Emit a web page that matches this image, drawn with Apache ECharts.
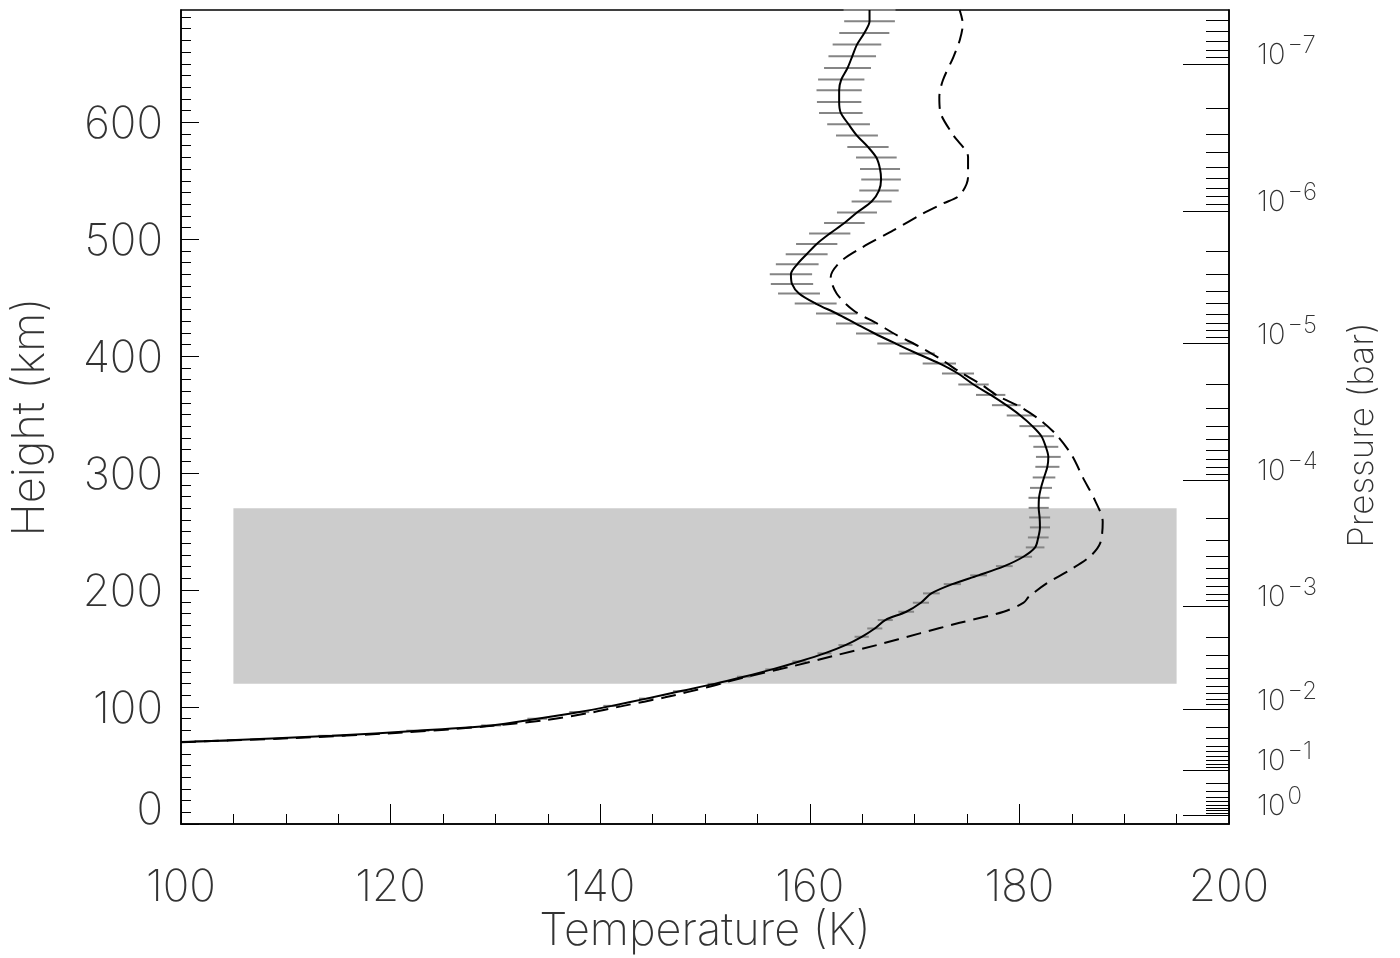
<!DOCTYPE html>
<html>
<head>
<meta charset="utf-8">
<script src="https://cdn.jsdelivr.net/npm/echarts@6/dist/echarts.min.js"></script>
<style>
html,body{margin:0;padding:0;background:#fff;}
#chart{width:1400px;height:958px;}
</style>
</head>
<body>
<div id="chart"></div>
<script>
// ---------- data ----------
// Retrieved profile (solid line) with error bars
const solidHeight = [70.2,70.9,75.4,79.8,84.3,90.0,95.7,101.0,107.2,113.5,119.8,125.9,132.2,139.0,145.9,153.0,160.1,167.2,174.4,181.5,189.2,197.2,205.1,212.6,220.5,228.5,236.5,245.0,253.6,262.1,270.3,278.9,287.4,296.3,305.4,313.9,322.5,331.6,340.2,349.3,358.1,366.9,375.8,385.2,393.8,402.3,410.8,419.4,427.9,436.5,445.0,453.6,461.8,470.1,478.6,487.2,496.0,504.8,513.9,522.8,532.2,541.6,551.0,560.1,569.8,578.9,588.6,598.3,608.0,617.4,627.4,636.5,646.4,656.4,666.4,676.4,686.3,696.0];
const solidTemp = [100.0,102.9,114.4,122.6,129.6,134.0,138.0,141.1,144.4,147.6,150.9,153.7,156.4,159.0,161.4,163.4,164.95,166.2,167.2,169.2,170.6,171.6,173.6,176.1,178.56,180.38,181.5,181.8,181.96,181.93,181.84,181.87,182.06,182.35,182.67,182.76,182.52,182.1,181.24,180.09,178.75,177.26,175.62,174.14,172.36,170.23,168.19,166.19,164.38,162.56,160.56,158.97,158.3,158.2,158.8,159.7,160.66,161.9,163.3,164.5,165.9,166.6,166.8,166.7,166.35,165.55,164.5,163.7,162.96,162.8,162.8,163.0,163.6,164.05,164.5,165.2,165.7,165.7];
const solidError = [null,1.6,1.3,1.1,0.95,0.95,0.95,0.8,0.7,0.65,0.65,0.65,0.65,0.67,0.67,0.67,0.68,0.72,0.72,0.75,0.77,0.8,0.82,0.8,0.8,0.83,0.89,0.99,0.96,1.0,0.96,1.0,1.05,1.08,1.15,1.18,1.19,1.21,1.24,1.3,1.37,1.4,1.45,1.53,1.59,1.69,1.75,1.78,1.88,1.97,2.0,2.0,2.02,2.02,2.04,2.0,1.97,1.97,1.94,1.91,1.91,1.88,1.89,1.91,1.94,1.97,2.0,2.04,2.08,2.12,2.16,2.21,2.24,2.27,2.32,2.39,2.42,2.48];

// Reference profile (dashed line)
const dashedHeight = [70.0,73.5,78.0,83.3,89.0,95.0,101.0,108.3,117.4,125.9,135.0,143.6,153.0,163.0,172.0,181.5,189.2,194.3,205.7,217.1,228.5,239.9,258.4,276.9,295.5,315.4,332.5,345.3,356.7,365.2,376.7,386.6,398.0,408.0,418.0,428.0,439.3,453.6,467.8,480.6,492.0,507.7,522.0,530.5,537.6,553.3,570.3,588.9,607.4,621.6,635.9,655.8,670.0,684.0,696.0];
const dashedTemp = [100.0,110.8,120.8,128.9,134.9,139.0,142.2,146.2,150.4,153.98,158.4,162.2,166.4,170.5,174.3,178.5,180.4,180.9,182.6,184.8,186.7,187.7,187.95,187.2,186.1,184.99,183.56,182.0,180.06,178.1,176.2,174.3,172.4,170.5,168.3,166.4,164.15,162.56,162.0,162.9,164.8,168.0,170.8,172.7,174.3,175.1,175.1,173.7,172.5,172.36,172.7,173.7,174.3,174.6,174.3];

// Shaded band
const bandTemp = [105, 195];
const bandHeight = [120, 270];

// Axes
const tempRange = [100, 200];
const heightRange = [0, 696];
const heightTicks = [0, 100, 200, 300, 400, 500, 600];
const tempTicks = [100, 120, 140, 160, 180, 200];
// Pressure axis: height (km) of each pressure decade
const pressureExponent = [0, -1, -2, -3, -4, -5, -6, -7];
const pressureDecadeHeight = [7.7, 46.2, 98.0, 186.3, 294.0, 410.8, 524.2, 649.6];

// ---------- derived axis helpers ----------
const heightMinor = [];
for (let v = 10; v < heightRange[1]; v += 10) if (v % 100 !== 0) heightMinor.push(v);

// minor pressure ticks (2..9 x 10^n) placed log-linearly between decade heights
const pressureMinor = [];
const H = pressureDecadeHeight.slice();
const decH = function (i) {
  if (i < 0) return H[0] - (H[1] - H[0]) * (-i);
  if (i >= H.length) return H[H.length - 1] + (H[H.length - 1] - H[H.length - 2]) * (i - H.length + 1);
  return H[i];
};
for (let i = -1; i <= H.length; i++) {
  const hi = decH(i), lo = decH(i + 1);
  for (let m = 2; m <= 9; m++) {
    const h = lo + (hi - lo) * Math.log10(m);
    if (h > heightRange[0] && h < heightRange[1]) pressureMinor.push(+h.toFixed(2));
  }
}

const errorRows = [];
for (let i = 0; i < solidHeight.length; i++) {
  if (solidError[i] != null) errorRows.push([solidTemp[i], solidHeight[i], solidError[i]]);
}

const FONT = 'Inter';
const FW = 200;
const TXT = '#333';

const chart = echarts.init(document.getElementById('chart'), null, {renderer: 'canvas'});
chart.setOption({
  animation: false,
  backgroundColor: '#fff',
  grid: {left: 181, right: 171, top: 10, bottom: 134, outerBoundsMode: 'none', containLabel: false,
    show: true, borderColor: '#000', borderWidth: 1.5, backgroundColor: 'transparent'},
  xAxis: [{
    type: 'value', min: tempRange[0], max: tempRange[1], interval: 20,
    name: 'Temperature (K)', nameLocation: 'middle', nameGap: 85, nameMoveOverlap: false,
    nameTextStyle: {fontFamily: FONT, fontWeight: FW, fontSize: 45, color: TXT},
    axisLine: {show: true, lineStyle: {color: '#000', width: 1.5}},
    axisTick: {show: true, inside: true, length: 20, lineStyle: {color: '#000', width: 1}},
    minorTick: {show: true, splitNumber: 4, length: 10, lineStyle: {color: '#000', width: 1}},
    splitLine: {show: false},
    axisLabel: {show: true, margin: 42, fontFamily: FONT, fontWeight: FW, fontSize: 44, color: TXT,
      customValues: tempTicks}
  }],
  yAxis: [{
    type: 'value', min: heightRange[0], max: heightRange[1], position: 'left',
    name: 'Height (km)', nameLocation: 'middle', nameGap: 128, nameRotate: 90, nameMoveOverlap: false,
    nameTextStyle: {fontFamily: FONT, fontWeight: FW, fontSize: 45, color: TXT},
    axisLine: {show: true, lineStyle: {color: '#000', width: 1.5}},
    axisTick: {show: true, inside: true, length: 18, customValues: heightTicks, lineStyle: {color: '#000', width: 1}},
    splitLine: {show: false},
    axisLabel: {show: true, margin: 18, fontFamily: FONT, fontWeight: FW, fontSize: 44, color: TXT,
      customValues: heightTicks,
      formatter: function (v) { return v === 0 ? '{z|0}' : '{n|' + v + '}'; },
      rich: {
        n: {fontFamily: FONT, fontWeight: FW, fontSize: 44, color: TXT, padding: [5, 0, 0, 0]},
        z: {fontFamily: FONT, fontWeight: FW, fontSize: 44, color: TXT, padding: [0, 0, 26, 0]}
      }}
  }, {
    type: 'value', min: heightRange[0], max: heightRange[1], position: 'left',
    axisLine: {show: false},
    axisTick: {show: true, inside: true, length: 10, customValues: heightMinor, lineStyle: {color: '#000', width: 1}},
    axisLabel: {show: false}, splitLine: {show: false}
  }, {
    type: 'value', min: heightRange[0], max: heightRange[1], position: 'right',
    name: 'Pressure (bar)', nameLocation: 'middle', nameGap: 116, nameRotate: 90, nameMoveOverlap: false,
    nameTextStyle: {fontFamily: FONT, fontWeight: FW, fontSize: 35, color: TXT, padding: [0, 36, 0, 0]},
    axisLine: {show: true, lineStyle: {color: '#000', width: 1.5}},
    axisTick: {show: true, inside: true, length: 46, customValues: pressureDecadeHeight, lineStyle: {color: '#000', width: 1}},
    splitLine: {show: false},
    axisLabel: {show: true, margin: 28, verticalAlign: 'middle', padding: [0, 0, 18, 0],
      customValues: pressureDecadeHeight,
      formatter: function (v) {
        const i = pressureDecadeHeight.indexOf(v);
        const e = pressureExponent[i];
        const s = e < 0 ? '\u2212' + (-e) : String(e);
        return '{b|10}{s|' + s + '}';
      },
      rich: {
        b: {fontFamily: FONT, fontWeight: FW, fontSize: 29, lineHeight: 30, color: TXT, verticalAlign: 'bottom'},
        s: {fontFamily: FONT, fontWeight: FW, fontSize: 24, lineHeight: 24, color: TXT, verticalAlign: 'bottom', padding: [0, 0, 12, 2]}
      }}
  }, {
    type: 'value', min: heightRange[0], max: heightRange[1], position: 'right',
    axisLine: {show: false},
    axisTick: {show: true, inside: true, length: 23, customValues: pressureMinor, lineStyle: {color: '#000', width: 1}},
    axisLabel: {show: false}, splitLine: {show: false}
  }],
  series: [{
    type: 'line', name: 'band', data: [], xAxisIndex: 0, yAxisIndex: 0,
    markArea: {silent: true, itemStyle: {color: '#cccccc', opacity: 1},
      data: [[{coord: [bandTemp[0], bandHeight[0]]}, {coord: [bandTemp[1], bandHeight[1]]}]]},
    z: 1
  }, {
    type: 'custom', name: 'errors', xAxisIndex: 0, yAxisIndex: 0, z: 3,
    data: errorRows,
    encode: {x: 0, y: 1},
    renderItem: function (params, api) {
      const t = api.value(0), h = api.value(1), e = api.value(2);
      const a = api.coord([t - e, h]);
      const b = api.coord([t + e, h]);
      return {type: 'line', shape: {x1: a[0], y1: a[1], x2: b[0], y2: b[1]},
        style: {stroke: '#858585', lineWidth: 2}};
    }
  }, {
    type: 'line', name: 'reference', xAxisIndex: 0, yAxisIndex: 0, z: 4,
    data: dashedHeight.map((h, i) => [dashedTemp[i], h]),
    showSymbol: false, smooth: 0.3,
    lineStyle: {color: '#000', width: 2, type: [15, 8]}
  }, {
    type: 'line', name: 'retrieved', xAxisIndex: 0, yAxisIndex: 0, z: 5,
    data: solidHeight.map((h, i) => [solidTemp[i], h]),
    showSymbol: false, smooth: 0.3,
    lineStyle: {color: '#000', width: 2}
  }]
});
</script>
</body>
</html>
